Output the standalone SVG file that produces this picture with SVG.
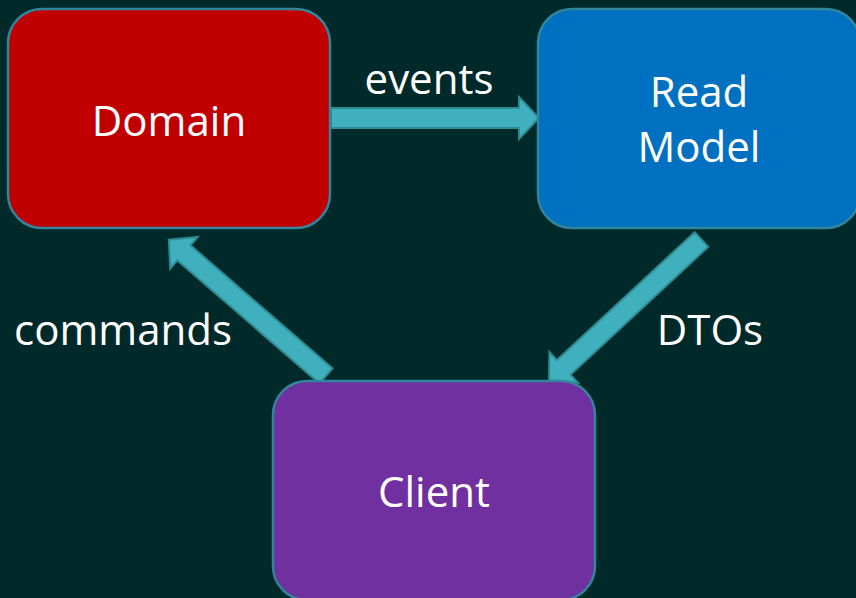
<svg xmlns="http://www.w3.org/2000/svg" width="856" height="598" viewBox="0 0 856 598">
  <style>
    .box { stroke: #31859c; stroke-width: 2.5; }
    .label { font-family: "Open Sans", "Noto Sans", "DejaVu Sans", sans-serif; font-size: 42px; fill: #ffffff; text-anchor: middle; }
    .edge-label { font-family: "Open Sans", "Noto Sans", "DejaVu Sans", sans-serif; font-size: 42px; fill: #ffffff; text-anchor: middle; }
    .arrow { fill: #41b0be; stroke: #2e8b92; stroke-width: 2; stroke-linejoin: miter; }
  </style>
  <defs>
    <!-- block arrow pointing along +x, tail at origin -->
    <path id="blockArrow" d="M0,-10 H188 V-21 L208,0 L188,21 V10 H0 Z"/>
  </defs>
  <rect width="856" height="598" fill="#00292a"/>

  <g id="connectors">
    <use href="#blockArrow" class="arrow" transform="translate(331,118)"/>
    <use href="#blockArrow" class="arrow" transform="translate(326,376) rotate(-139.07)"/>
    <use href="#blockArrow" class="arrow" transform="translate(701.5,239.5) rotate(137.13)"/>
    <text class="edge-label" x="429" y="94">events</text>
    <text class="edge-label" x="123" y="345">commands</text>
    <text class="edge-label" x="710" y="345">DTOs</text>
  </g>

  <g id="domain">
    <rect class="box" x="8" y="9" width="322" height="219" rx="34" fill="#c00000"/>
    <text class="label" x="169" y="136">Domain</text>
  </g>

  <g id="read-model">
    <rect class="box" x="538" y="9" width="322" height="219" rx="34" fill="#0070c0"/>
    <text class="label" x="699" y="107">Read</text>
    <text class="label" x="699" y="162">Model</text>
  </g>

  <g id="client">
    <rect class="box" x="273" y="381" width="322" height="219" rx="34" fill="#7030a0"/>
    <text class="label" x="434" y="507">Client</text>
  </g>
</svg>
